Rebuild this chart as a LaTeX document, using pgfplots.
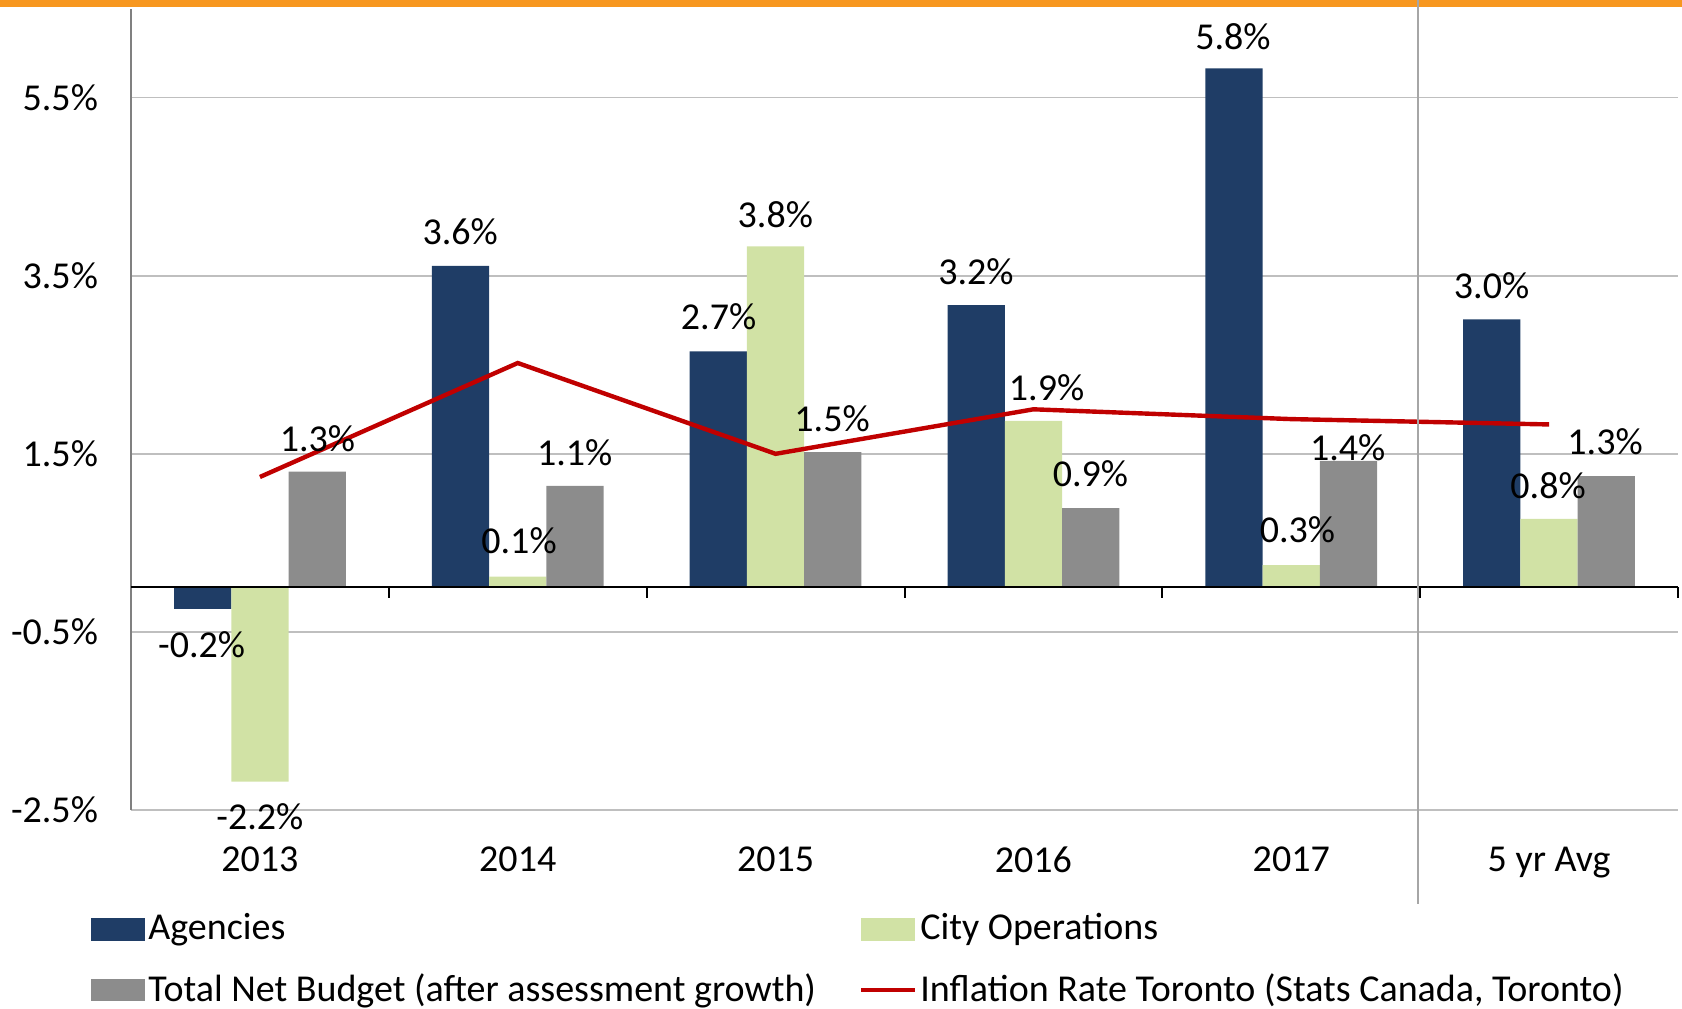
\documentclass[border=0pt]{standalone}
\usepackage{pgfplots}
\pgfplotsset{compat=1.18}
\usepackage{fontspec}
\setmainfont{Carlito}
\usetikzlibrary{calc}
\definecolor{agency}{HTML}{1F3D66}
\definecolor{cityop}{HTML}{D1E2A5}
\definecolor{totnet}{HTML}{8C8C8C}
\definecolor{inflred}{HTML}{C00000}
\definecolor{topor}{HTML}{F7971F}
\definecolor{gridc}{HTML}{BFBFBF}
\begin{document}
\fontsize{19}{23}\selectfont
\begin{tikzpicture}
\begin{axis}[
  scale only axis, width=773.5pt, height=400.7pt,
  xmin=-0.5, xmax=5.5, ymin=-2.5, ymax=6.5,
  ybar, bar width=0.222,
  axis x line*=bottom, axis y line*=left,
  axis line style={-},
  x axis line style={draw=gridc, line width=0.8pt},
  y axis line style={draw=black!50, line width=1pt},
  ytick={-2.5,-0.5,1.5,3.5,5.5},
  yticklabels={-2.5\%,-0.5\%,1.5\%,3.5\%,5.5\%},
  xtick={0,1,2,3,4,5},
  xticklabels={2013,2014,2015,2016,2017,5 yr Avg},
  major tick length=0pt,
  ymajorgrids, grid style={draw=gridc, line width=0.8pt},
  yticklabel style={xshift=-10pt},
  xticklabel style={yshift=-12pt},
  clip=false,
  legend columns=2,
  legend cell align=left,
  legend style={draw=none, fill=none, at={(rel axis cs:0,0)}, anchor=north west, xshift=-20pt, yshift=-50pt, /tikz/every even column/.append style={column sep=20pt}, row sep=11pt, inner sep=0pt, nodes={inner sep=1.5pt}},
]
\addplot[fill=agency, draw=none, bar shift=-0.222, legend image code/.code={\fill[agency] (0pt,-5.6pt) rectangle (27pt,5.6pt);}]
  coordinates {(0,-0.24) (1,3.61) (2,2.65) (3,3.17) (4,5.83) (5,3.01)};
\addlegendentry{Agencies}
\addplot[fill=cityop, draw=none, bar shift=0, legend image code/.code={\fill[cityop] (0pt,-5.6pt) rectangle (27pt,5.6pt);}]
  coordinates {(0,-2.18) (1,0.12) (2,3.83) (3,1.87) (4,0.25) (5,0.77)};
\addlegendentry{City Operations}
\addplot[fill=totnet, draw=none, bar shift=0.222, legend image code/.code={\fill[totnet] (0pt,-5.6pt) rectangle (27pt,5.6pt);}]
  coordinates {(0,1.30) (1,1.14) (2,1.52) (3,0.89) (4,1.42) (5,1.25)};
\addlegendentry{Total Net Budget (after assessment growth)}
\addplot[inflred, line width=2.2pt, sharp plot, mark=none, fill=none, legend image code/.code={\draw[inflred, line width=2.2pt] (0pt,0pt) -- (27pt,0pt);}]
  coordinates {(0,1.24) (1,2.52) (2,1.50) (3,2.00) (4,1.89) (5,1.83)};
\addlegendentry{Inflation Rate Toronto (Stats Canada, Toronto)}
% zero axis line and ticks
\draw[black, line width=1pt] (axis cs:-0.5,0) -- (axis cs:5.5,0);
\pgfplotsinvokeforeach{0.5,1.5,2.5,3.5,4.5,5.5}{\draw[black, line width=1pt] (axis cs:#1,0) -- ++(0pt,-5.5pt);}
% top orange band
\draw[topor, line width=3.5pt] ($(rel axis cs:0,1)+(-65.5pt,2.55pt)$) -- ($(rel axis cs:1,1)+(2pt,2.55pt)$);
% separator
\draw[black!35, line width=1pt] ($(axis cs:4.49,6.5)+(0pt,4.3pt)$) -- ($(axis cs:4.49,-2.5)+(0pt,-47pt)$);
% data labels
\node at (axis cs:-0.226,-0.64) {-0.2\%};
\node at (axis cs:0.0,-2.58) {-2.2\%};
\node at (axis cs:0.223,1.675) {1.3\%};
\node at (axis cs:0.777,4.0) {3.6\%};
\node at (axis cs:1.005,0.53) {0.1\%};
\node at (axis cs:1.221,1.51) {1.1\%};
\node at (axis cs:1.779,3.04) {2.7\%};
\node at (axis cs:1.999,4.19) {3.8\%};
\node at (axis cs:2.219,1.89) {1.5\%};
\node at (axis cs:2.777,3.55) {3.2\%};
\node at (axis cs:3.051,2.24) {1.9\%};
\node at (axis cs:3.221,1.28) {0.9\%};
\node at (axis cs:3.774,6.19) {5.8\%};
\node at (axis cs:4.024,0.65) {0.3\%};
\node at (axis cs:4.219,1.57) {1.4\%};
\node at (axis cs:4.777,3.39) {3.0\%};
\node at (axis cs:4.996,1.14) {0.8\%};
\node at (axis cs:5.217,1.64) {1.3\%};
\coordinate (SW) at (rel axis cs:0,0);
\coordinate (NE) at (rel axis cs:1,1);
\end{axis}
\pgfresetboundingbox
\path[use as bounding box] ($(SW)+(-65.5pt,-99pt)$) rectangle ($(NE)+(2pt,4.3pt)$);
\end{tikzpicture}
\end{document}
